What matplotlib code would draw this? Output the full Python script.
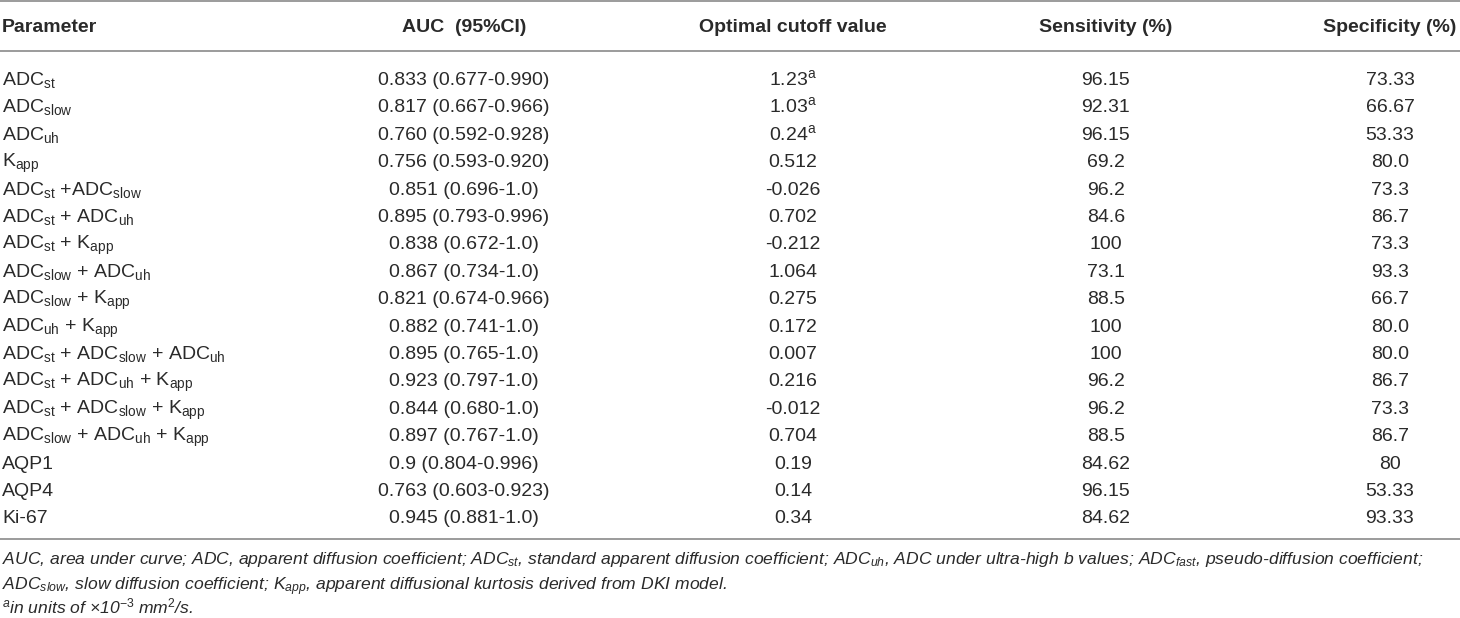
import matplotlib
matplotlib.use("Agg")
import matplotlib.pyplot as plt

plt.rcParams['font.family'] = ['Liberation Sans', 'DejaVu Sans']
plt.rcParams['mathtext.fontset'] = 'custom'
plt.rcParams['mathtext.rm'] = 'Liberation Sans'
plt.rcParams['mathtext.it'] = 'Liberation Sans:italic'
plt.rcParams['mathtext.bf'] = 'Liberation Sans:bold'

# table contents
headers = ["Parameter", "AUC  (95%CI)", "Optimal cutoff value",
           "Sensitivity (%)", "Specificity (%)"]

parameters = [
    r"ADC$_\mathrm{st}$",
    r"ADC$_\mathrm{slow}$",
    r"ADC$_\mathrm{uh}$",
    r"K$_\mathrm{app}$",
    r"ADC$_\mathrm{st}$ +ADC$_\mathrm{slow}$",
    r"ADC$_\mathrm{st}$ + ADC$_\mathrm{uh}$",
    r"ADC$_\mathrm{st}$ + K$_\mathrm{app}$",
    r"ADC$_\mathrm{slow}$ + ADC$_\mathrm{uh}$",
    r"ADC$_\mathrm{slow}$ + K$_\mathrm{app}$",
    r"ADC$_\mathrm{uh}$ + K$_\mathrm{app}$",
    r"ADC$_\mathrm{st}$ + ADC$_\mathrm{slow}$ + ADC$_\mathrm{uh}$",
    r"ADC$_\mathrm{st}$ + ADC$_\mathrm{uh}$ + K$_\mathrm{app}$",
    r"ADC$_\mathrm{st}$ + ADC$_\mathrm{slow}$ + K$_\mathrm{app}$",
    r"ADC$_\mathrm{slow}$ + ADC$_\mathrm{uh}$ + K$_\mathrm{app}$",
    "AQP1",
    "AQP4",
    "Ki-67",
]

auc_ci = [
    "0.833 (0.677-0.990)", "0.817 (0.667-0.966)", "0.760 (0.592-0.928)",
    "0.756 (0.593-0.920)", "0.851 (0.696-1.0)", "0.895 (0.793-0.996)",
    "0.838 (0.672-1.0)", "0.867 (0.734-1.0)", "0.821 (0.674-0.966)",
    "0.882 (0.741-1.0)", "0.895 (0.765-1.0)", "0.923 (0.797-1.0)",
    "0.844 (0.680-1.0)", "0.897 (0.767-1.0)", "0.9 (0.804-0.996)",
    "0.763 (0.603-0.923)", "0.945 (0.881-1.0)",
]

cutoff = ["1.23", "1.03", "0.24", "0.512", "-0.026", "0.702", "-0.212",
          "1.064", "0.275", "0.172", "0.007", "0.216", "-0.012", "0.704",
          "0.19", "0.14", "0.34"]
cutoff_in_units = [True, True, True] + [False] * 14

sensitivity = ["96.15", "92.31", "96.15", "69.2", "96.2", "84.6", "100",
               "73.1", "88.5", "100", "100", "96.2", "96.2", "88.5",
               "84.62", "96.15", "84.62"]

specificity = ["73.33", "66.67", "53.33", "80.0", "73.3", "86.7", "73.3",
               "93.3", "66.7", "80.0", "80.0", "86.7", "73.3", "86.7",
               "80", "53.33", "93.33"]

footnotes = [
    r"AUC, area under curve; ADC, apparent diffusion coefficient; "
    r"ADC$_\mathit{st}$, standard apparent diffusion coefficient; "
    r"ADC$_\mathit{uh}$, ADC under ultra-high b values; "
    r"ADC$_\mathit{fast}$, pseudo-diffusion coefficient;",
    r"ADC$_\mathit{slow}$, slow diffusion coefficient; "
    r"K$_\mathit{app}$, apparent diffusional kurtosis derived from DKI model.",
    r"$^\mathit{a}$in units of ×10$^{\mathit{-3}}$ mm$^\mathit{2}$/s.",
]

# layout (pixel units)
W, H = 1460, 618
fs = 14
txt_col = '#2a2a2a'
line_col = '#9b9b9b'
col_x = [2, 464, 793, 1106, 1390]
header_base = 32
row_base0 = 85
row_step = 27.4
foot_base = [564, 590, 613]

fig = plt.figure(figsize=(W / 100, H / 100), dpi=100)
ax = fig.add_axes([0, 0, 1, 1])
ax.set_xlim(0, W)
ax.set_ylim(H, 0)
ax.axis('off')

for yl in [1, 51, 539]:
    ax.plot([0, W], [yl, yl], color=line_col, lw=1.4, solid_capstyle='butt')

for j, h in enumerate(headers):
    ax.text(col_x[j], header_base, h, ha='left' if j == 0 else 'center',
            va='baseline', fontsize=fs, fontweight='bold', color=txt_col)

for i in range(len(parameters)):
    yb = row_base0 + i * row_step
    cut = cutoff[i] + (r"$^\mathrm{a}$" if cutoff_in_units[i] else "")
    cells = [parameters[i], auc_ci[i], cut, sensitivity[i], specificity[i]]
    for j, c in enumerate(cells):
        ax.text(col_x[j], yb, c, ha='left' if j == 0 else 'center',
                va='baseline', fontsize=fs, color=txt_col)

for k, f in enumerate(footnotes):
    ax.text(2, foot_base[k], f, ha='left', va='baseline', fontsize=12.6,
            style='italic', color=txt_col)

fig.savefig('out.png', dpi=100)
